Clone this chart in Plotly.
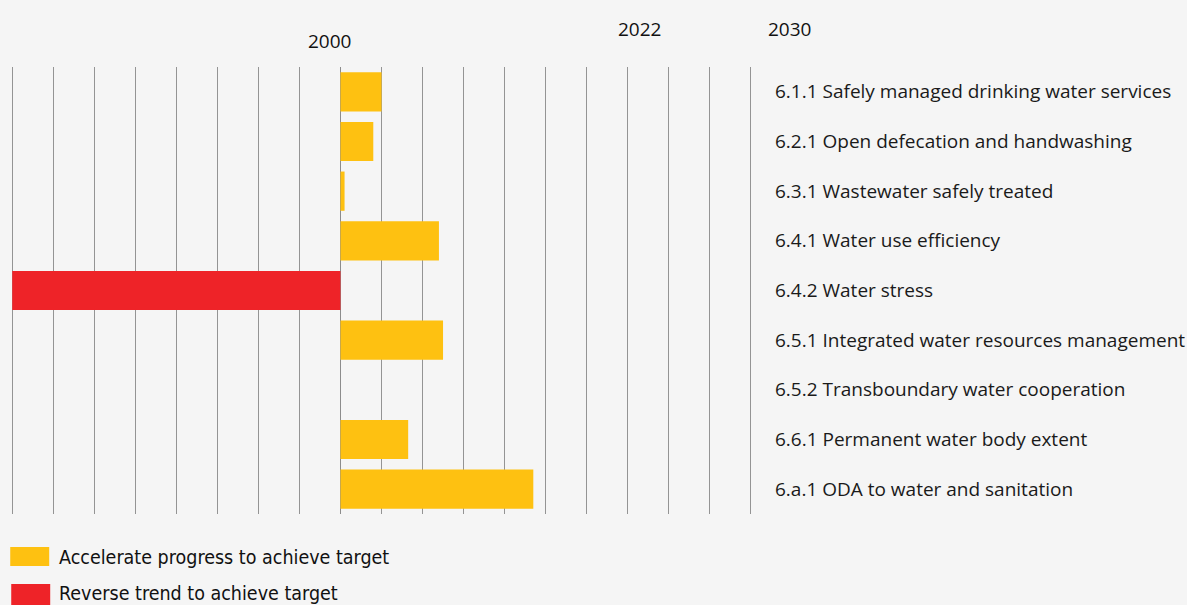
import plotly.graph_objects as go

categories = [
    "6.1.1 Safely managed drinking water services",
    "6.2.1 Open defecation and handwashing",
    "6.3.1 Wastewater safely treated",
    "6.4.1 Water use efficiency",
    "6.4.2 Water stress",
    "6.5.1 Integrated water resources management",
    "6.5.2 Transboundary water cooperation",
    "6.6.1 Permanent water body extent",
    "6.a.1 ODA to water and sanitation",
]
accelerate = [1.0, 0.8, 0.1, 2.4, None, 2.5, None, 1.65, 4.7]
reverse = [None, None, None, None, -8.0, None, None, None, None]
year_labels = ["2000", "2022", "2030"]
legend_labels = ["Accelerate progress to achieve target", "Reverse trend to achieve target"]

ORANGE = "#FEC111"
RED = "#EE2328"
BG = "#F5F5F5"

fig = go.Figure()
fig.add_trace(go.Bar(y=categories, x=accelerate, orientation="h", marker=dict(color=ORANGE, line=dict(width=0)),
                     name=legend_labels[0], showlegend=False))
fig.add_trace(go.Bar(y=categories, x=reverse, orientation="h", marker=dict(color=RED, line=dict(width=0)),
                     name=legend_labels[1], showlegend=False))

W, H = 1187, 605
UNIT = 41.06
PADX = 0.03
L, R, T, B = 12 - PADX * UNIT, 751 + PADX * UNIT, 67, 514
pw, ph = R - L, B - T

def px(x):
    return (x - L) / pw

def py(y):
    return (B - y) / ph

fig.update_layout(
    width=W, height=H,
    margin=dict(l=L, r=W - R, t=T, b=H - B, pad=0, autoexpand=False),
    paper_bgcolor=BG, plot_bgcolor=BG,
    barmode="overlay", bargap=0.21,
    font=dict(family="Open Sans, sans-serif", color="#1a1a1a"),
    xaxis=dict(range=[-8 - PADX, 10 + PADX], dtick=1, tick0=0, showgrid=True, gridcolor="#949494", gridwidth=1.4,
               zeroline=True, zerolinecolor="#8c8c8c", zerolinewidth=1.4, automargin=False,
               showticklabels=False, ticks="", showline=False, fixedrange=True),
    yaxis=dict(autorange="reversed", side="right", showgrid=False, zeroline=False, ticks="", automargin=False,
               ticklabelstandoff=22, tickfont=dict(size=19, color="#1a1a1a", family="Open Sans, sans-serif"),
               showline=False),
)

# year header labels
year_pos = [(329.5, 41), (640, 29), (790, 29)]
for lab, (xx, yy) in zip(year_labels, year_pos):
    fig.add_annotation(text=lab, xref="paper", yref="paper", x=px(xx), y=py(yy), xanchor="center",
                       yanchor="middle", showarrow=False, font=dict(size=19, color="#111111"))

# legend
leg = [(ORANGE, 10, 49, 547, 566, 557), (RED, 11, 50, 584, 606, 593.5)]
for (col, x0, x1, y0, y1, ty), lab in zip(leg, legend_labels):
    fig.add_shape(type="rect", xref="paper", yref="paper", x0=px(x0), x1=px(x1), y0=py(y0), y1=py(y1),
                  fillcolor=col, line=dict(width=0))
    fig.add_annotation(text=lab, xref="paper", yref="paper", x=px(57), y=py(ty), xanchor="left",
                       yanchor="middle", showarrow=False,
                       font=dict(size=19.5, color="#111111",
                                 family="Liberation Sans Narrow, DejaVu Sans Condensed, sans-serif"))

fig.write_html("out.html", config={"displayModeBar": False},
               post_script="document.body.style.margin='0';document.body.style.background='#F5F5F5';")
